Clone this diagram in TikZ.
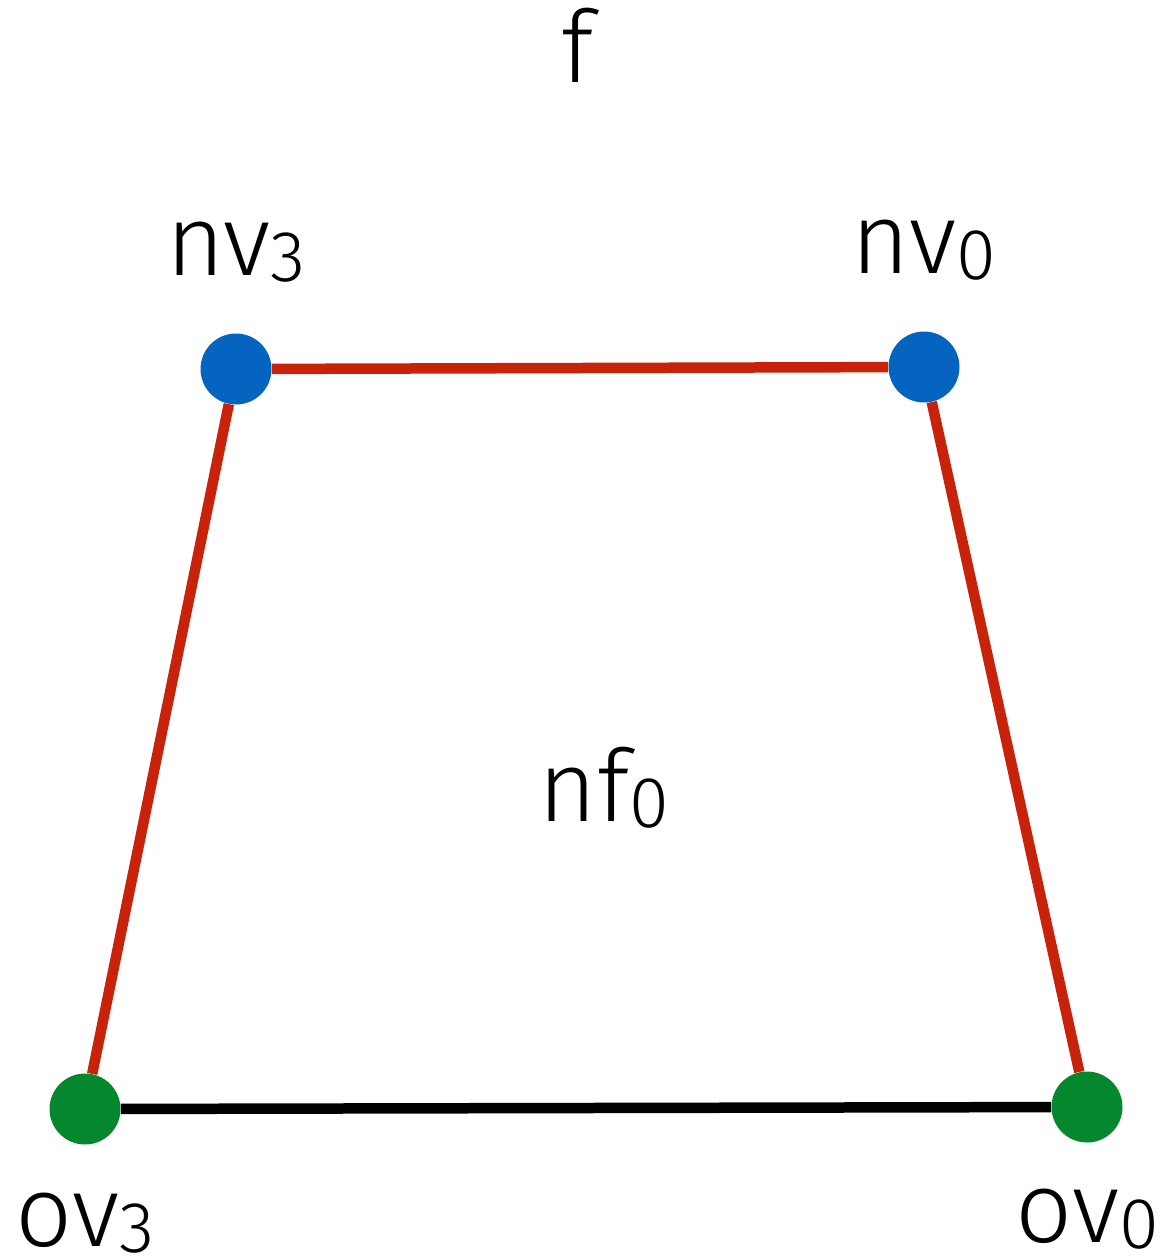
\documentclass[tikz,border=0pt]{standalone}
\usepackage{fontspec}
\setmainfont{Fira Sans}[UprightFont=* Light]
\usetikzlibrary{positioning}
\definecolor{myblue}{RGB}{5,100,192}
\definecolor{myred}{RGB}{200,35,10}
\definecolor{mygreen}{RGB}{5,135,45}
\newcommand{\lsub}[1]{\raisebox{-0.06em}{\fontsize{41}{41}\selectfont #1}}

\begin{document}
\begin{tikzpicture}[x=0.02cm,y=-0.02cm,
  dot/.style={circle,inner sep=0pt,minimum size=1.42cm},
  lbl/.style={anchor=base,inner sep=0pt,font=\fontsize{57}{60}\selectfont},
  edge/.style={line width=0.21cm}]
\useasboundingbox (0,0) rectangle (1162,1258);

% vertices
\node[dot,fill=myblue] (nv3) at (236,369) {};
\node[dot,fill=myblue] (nv0) at (924,367) {};
\node[dot,fill=mygreen] (ov3) at (85,1109) {};
\node[dot,fill=mygreen] (ov0) at (1087,1107) {};

% edges
\draw[edge,myred] (nv3) -- (nv0);
\draw[edge,myred] (nv3) -- (ov3);
\draw[edge,myred] (nv0) -- (ov0);
\draw[edge,black] (ov3) -- (ov0);

% labels
\node[lbl] (flbl) at (578,82) {f};
\node[lbl] (nflbl) at (604,821) {nf\lsub{0}};
\node[lbl] (nv3lbl) at ([yshift=1.88cm]nv3) {nv\lsub{3}};
\node[lbl] (nv0lbl) at ([yshift=1.88cm]nv0) {nv\lsub{0}};
\node[lbl] (ov3lbl) at ([yshift=-2.76cm]ov3) {ov\lsub{3}};
\node[lbl] (ov0lbl) at ([yshift=-2.72cm]ov0) {ov\lsub{0}};
\end{tikzpicture}
\end{document}
